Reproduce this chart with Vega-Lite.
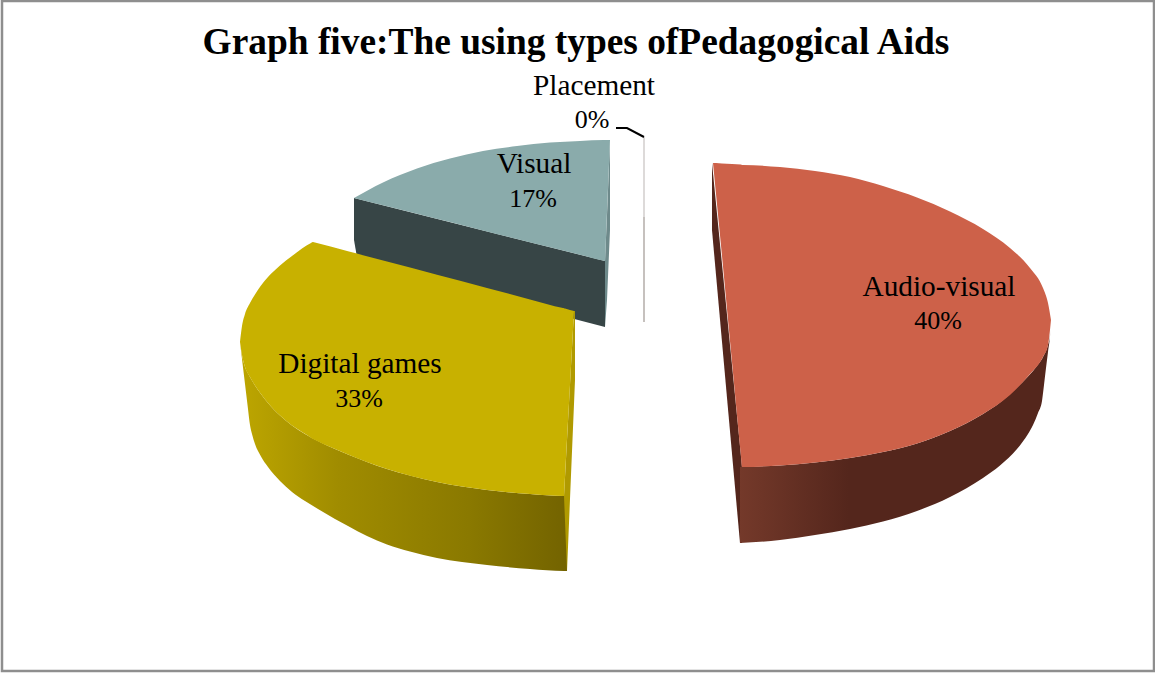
{"$schema":"https://vega.github.io/schema/vega-lite/v6.json","width":1152,"height":670,"padding":{"left":2,"top":1,"right":1,"bottom":2},"autosize":"none","background":"white","config":{"view":{"stroke":"#8e8e8e","strokeWidth":2.5}},"title":{"text":"Graph five:The using types ofPedagogical Aids","font":"Liberation Serif","fontSize":37.4,"fontWeight":"bold","color":"#000000","anchor":"middle","offset":0,"dy":60,"dx":-2},"data":{"values":[
{"face":"visual-side","x":354,"y":198,"y2":240},{"face":"visual-side","x":358,"y":199,"y2":263},{"face":"visual-side","x":605,"y":261,"y2":327},
{"face":"visual-inner","x":605,"y":261,"y2":327},{"face":"visual-inner","x":607,"y":215,"y2":300},{"face":"visual-inner","x":610,"y":140,"y2":230},
{"face":"visual-top","x":354,"y":198,"y2":198},{"face":"visual-top","x":383,"y":182.5,"y2":205.3},{"face":"visual-top","x":417,"y":168.5,"y2":213.8},{"face":"visual-top","x":450,"y":158.5,"y2":222.1},{"face":"visual-top","x":483,"y":151,"y2":230.4},{"face":"visual-top","x":517,"y":146,"y2":238.9},{"face":"visual-top","x":550,"y":142.5,"y2":247.2},{"face":"visual-top","x":580,"y":141,"y2":254.7},{"face":"visual-top","x":604,"y":140,"y2":260.8},{"face":"visual-top","x":605,"y":140,"y2":261},{"face":"visual-top","x":606,"y":140,"y2":237},{"face":"visual-top","x":608,"y":140,"y2":188},{"face":"visual-top","x":610,"y":140,"y2":140},
{"face":"games-side","x":240,"y":342,"y2":342},{"face":"games-side","x":242,"y":355,"y2":359},{"face":"games-side","x":245,"y":367,"y2":384},{"face":"games-side","x":248,"y":373.5,"y2":409},{"face":"games-side","x":250,"y":377,"y2":425},{"face":"games-side","x":252,"y":380.5,"y2":434},{"face":"games-side","x":255,"y":385.5,"y2":444},{"face":"games-side","x":261,"y":394,"y2":456.5},{"face":"games-side","x":268,"y":403,"y2":467},{"face":"games-side","x":280,"y":415.5,"y2":481},{"face":"games-side","x":292,"y":425.5,"y2":492},{"face":"games-side","x":305,"y":434,"y2":501},{"face":"games-side","x":318,"y":441,"y2":509},{"face":"games-side","x":335,"y":449,"y2":519},{"face":"games-side","x":348,"y":454.5,"y2":526},{"face":"games-side","x":367,"y":462,"y2":536},{"face":"games-side","x":387,"y":469,"y2":544.5},{"face":"games-side","x":410,"y":475.5,"y2":551.5},{"face":"games-side","x":437,"y":482,"y2":558},{"face":"games-side","x":462,"y":486.5,"y2":562},{"face":"games-side","x":487,"y":490,"y2":565},{"face":"games-side","x":530,"y":494,"y2":569},{"face":"games-side","x":564,"y":496,"y2":571},{"face":"games-side","x":567,"y":496,"y2":571},
{"face":"games-inner","x":564,"y":496,"y2":496},{"face":"games-inner","x":567,"y":440,"y2":571},{"face":"games-inner","x":571,"y":366,"y2":475},{"face":"games-inner","x":574,"y":311,"y2":404},{"face":"games-inner","x":575,"y":311,"y2":380},
{"face":"games-top","x":240,"y":342,"y2":342},{"face":"games-top","x":242,"y":326,"y2":355},{"face":"games-top","x":245,"y":314,"y2":367},{"face":"games-top","x":250,"y":303,"y2":377},{"face":"games-top","x":255,"y":294.5,"y2":385.5},{"face":"games-top","x":261,"y":285.5,"y2":394},{"face":"games-top","x":268,"y":277,"y2":403},{"face":"games-top","x":280,"y":265.5,"y2":415.5},{"face":"games-top","x":292,"y":256,"y2":425.5},{"face":"games-top","x":302,"y":248.5,"y2":432},{"face":"games-top","x":311,"y":243,"y2":437.7},{"face":"games-top","x":313,"y":242,"y2":439},{"face":"games-top","x":315,"y":242.5,"y2":440},{"face":"games-top","x":348,"y":251.3,"y2":454.5},{"face":"games-top","x":387,"y":261.6,"y2":469},{"face":"games-top","x":437,"y":274.8,"y2":482},{"face":"games-top","x":487,"y":288,"y2":490},{"face":"games-top","x":530,"y":299.4,"y2":494},{"face":"games-top","x":563,"y":308.1,"y2":496},{"face":"games-top","x":564,"y":308.3,"y2":496},{"face":"games-top","x":565,"y":308.6,"y2":477},{"face":"games-top","x":570,"y":310,"y2":385},{"face":"games-top","x":574,"y":311,"y2":311},
{"face":"audio-inner","x":712,"y":163,"y2":230},{"face":"audio-inner","x":740,"y":446,"y2":543},{"face":"audio-inner","x":742,"y":467,"y2":543},
{"face":"audio-side","x":740,"y":467,"y2":543},{"face":"audio-side","x":780,"y":465.5,"y2":540},{"face":"audio-side","x":815,"y":462.5,"y2":535},{"face":"audio-side","x":850,"y":458,"y2":529},{"face":"audio-side","x":883,"y":452,"y2":521.5},{"face":"audio-side","x":917,"y":443.5,"y2":511},{"face":"audio-side","x":950,"y":431,"y2":497},{"face":"audio-side","x":983,"y":414,"y2":478},{"face":"audio-side","x":1000,"y":402.5,"y2":465.5},{"face":"audio-side","x":1017,"y":387.5,"y2":449},{"face":"audio-side","x":1028,"y":376.5,"y2":434},{"face":"audio-side","x":1033,"y":371,"y2":425},{"face":"audio-side","x":1038,"y":364.5,"y2":413},{"face":"audio-side","x":1042,"y":359,"y2":401},{"face":"audio-side","x":1044,"y":355,"y2":385},{"face":"audio-side","x":1046,"y":351,"y2":368},{"face":"audio-side","x":1048,"y":345,"y2":352},{"face":"audio-side","x":1050,"y":335,"y2":336},{"face":"audio-side","x":1051,"y":320,"y2":320},
{"face":"audio-top","x":713,"y":163,"y2":163},{"face":"audio-top","x":716,"y":163,"y2":194},{"face":"audio-top","x":722,"y":163.5,"y2":256},{"face":"audio-top","x":732,"y":164,"y2":362},{"face":"audio-top","x":741,"y":164.5,"y2":457},{"face":"audio-top","x":742,"y":165,"y2":467},{"face":"audio-top","x":743,"y":165,"y2":467},{"face":"audio-top","x":780,"y":167,"y2":465.5},{"face":"audio-top","x":815,"y":171,"y2":462.5},{"face":"audio-top","x":850,"y":177,"y2":458},{"face":"audio-top","x":883,"y":186,"y2":452},{"face":"audio-top","x":917,"y":197.5,"y2":443.5},{"face":"audio-top","x":950,"y":211.5,"y2":431},{"face":"audio-top","x":983,"y":229,"y2":414},{"face":"audio-top","x":1010,"y":248,"y2":395},{"face":"audio-top","x":1030,"y":268,"y2":374},{"face":"audio-top","x":1043,"y":288,"y2":357},{"face":"audio-top","x":1048,"y":303,"y2":345},{"face":"audio-top","x":1051,"y":320,"y2":320}
]},
"encoding":{
"x":{"field":"x","type":"quantitative","scale":{"domain":[2,1154],"nice":false,"zero":false},"axis":null},
"y":{"field":"y","type":"quantitative","scale":{"domain":[671,1],"nice":false,"zero":false},"axis":null}
},
"layer":[
{"transform":[{"filter":"datum.face==='visual-side'"}],"mark":{"type":"area","color":"#374546"},"encoding":{"y2":{"field":"y2"}}},
{"transform":[{"filter":"datum.face==='visual-inner'"}],"mark":{"type":"area","color":"#6e8a8b"},"encoding":{"y2":{"field":"y2"}}},
{"transform":[{"filter":"datum.face==='visual-top'"}],"mark":{"type":"area","color":"#8aabab","interpolate":"monotone"},"encoding":{"y2":{"field":"y2"}}},
{"transform":[{"filter":"datum.face==='games-side'"}],"mark":{"type":"area","interpolate":"monotone","color":{"gradient":"linear","x1":0,"y1":0,"x2":1,"y2":0,"stops":[{"offset":0,"color":"#bda600"},{"offset":0.3,"color":"#a08c00"},{"offset":0.7,"color":"#8a7900"},{"offset":1,"color":"#736300"}]}},"encoding":{"y2":{"field":"y2"}}},
{"transform":[{"filter":"datum.face==='games-inner'"}],"mark":{"type":"area","color":"#b09a00"},"encoding":{"y2":{"field":"y2"}}},
{"transform":[{"filter":"datum.face==='games-top'"}],"mark":{"type":"area","color":"#c8b100","interpolate":"monotone"},"encoding":{"y2":{"field":"y2"}}},
{"transform":[{"filter":"datum.face==='audio-inner'"}],"mark":{"type":"area","color":"#54261c"},"encoding":{"y2":{"field":"y2"}}},
{"transform":[{"filter":"datum.face==='audio-side'"}],"mark":{"type":"area","interpolate":"monotone","color":{"gradient":"linear","x1":0,"y1":0,"x2":1,"y2":0,"stops":[{"offset":0,"color":"#74392a"},{"offset":0.35,"color":"#54261c"},{"offset":1,"color":"#54261c"}]}},"encoding":{"y2":{"field":"y2"}}},
{"transform":[{"filter":"datum.face==='audio-top'"}],"mark":{"type":"area","color":"#cd6149","interpolate":"monotone"},"encoding":{"y2":{"field":"y2"}}},
{"data":{"values":[{"part":"upper","x":644,"y":137,"y2":217},{"part":"lower","x":644,"y":217,"y2":322}]},"mark":{"type":"rule","strokeWidth":1.5},"encoding":{"y2":{"field":"y2"},"color":{"field":"part","type":"nominal","scale":{"domain":["upper","lower"],"range":["#d2cecd","#b3aca8"]},"legend":null}}},
{"data":{"values":[{"step":1,"x":616,"y":128},{"step":2,"x":627,"y":128},{"step":3,"x":644,"y":137}]},"mark":{"type":"line","color":"#000000","strokeWidth":2},"encoding":{"order":{"field":"step","type":"ordinal"}}},
{"data":{"name":"labels","values":[{"name":"Audio-visual","share":0.40,"x":939,"y":296,"xPct":938,"yPct":329},{"name":"Digital games","share":0.33,"x":360,"y":373,"xPct":359,"yPct":407},{"name":"Visual","share":0.17,"x":534,"y":173,"xPct":533,"yPct":207},{"name":"Placement","share":0,"x":594,"y":95,"xPct":592,"yPct":128}]},"mark":{"type":"text","font":"Liberation Serif","fontSize":29.3,"color":"#000000","align":"center","baseline":"alphabetic"},"encoding":{"text":{"field":"name","type":"nominal"}}},
{"data":{"name":"labels"},"mark":{"type":"text","font":"Liberation Serif","fontSize":26,"color":"#000000","align":"center","baseline":"alphabetic"},"encoding":{"x":{"field":"xPct","type":"quantitative"},"y":{"field":"yPct","type":"quantitative"},"text":{"field":"share","type":"quantitative","format":".0%"}}}
]}
